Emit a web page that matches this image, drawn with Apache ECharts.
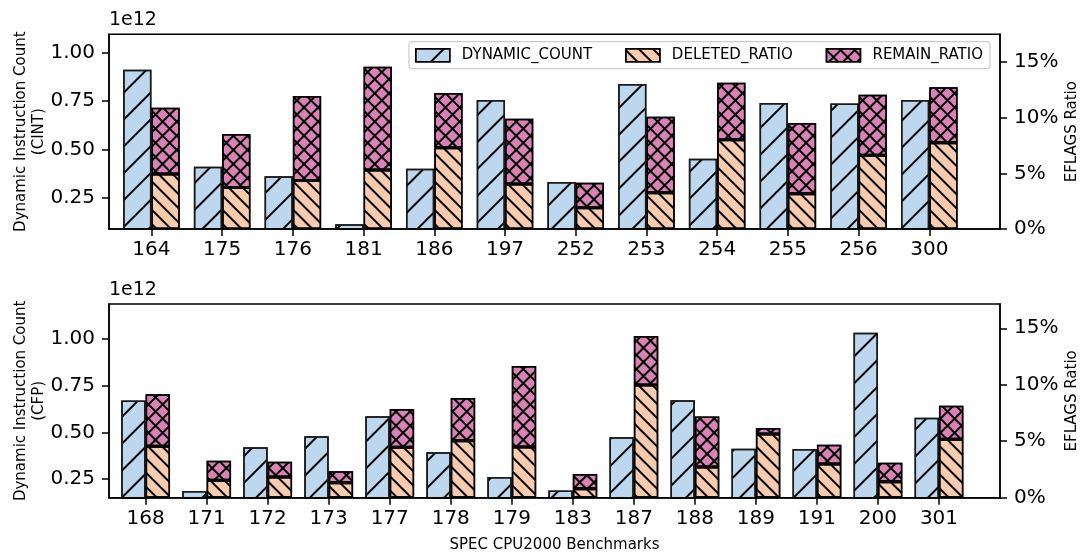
<!DOCTYPE html>
<html>
<head>
<meta charset="utf-8">
<script src="https://cdn.jsdelivr.net/npm/echarts@6/dist/echarts.min.js"></script>
<style>
html,body{margin:0;padding:0;background:#fff;}
#chart{width:1080px;height:552px;}
</style>
</head>
<body>
<div id="chart"></div>
<script>
// ---- data (dynamic counts in units of 1e12, ratios in %) ----
const cintCats = ['164','175','176','181','186','197','252','253','254','255','256','300'];
const cintDynamic = [0.913,0.411,0.361,0.112,0.400,0.756,0.331,0.839,0.452,0.741,0.738,0.756];
const cintDeleted = [4.94,3.74,4.37,5.30,7.31,4.04,1.92,3.26,8.02,3.17,6.62,7.75];
const cintRemain  = [5.96,4.79,7.58,9.28,4.91,5.87,2.24,6.83,5.12,6.35,5.44,5.00];

const cfpCats = ['168','171','172','173','177','178','179','183','187','188','189','191','200','301'];
const cfpDynamic = [0.671,0.185,0.420,0.480,0.587,0.394,0.261,0.188,0.474,0.673,0.413,0.411,1.035,0.579];
const cfpDeleted = [4.55,1.54,1.83,1.33,4.46,5.04,4.49,0.80,9.97,2.72,5.64,2.98,1.42,5.17];
const cfpRemain  = [4.60,1.73,1.36,1.01,3.39,3.78,7.16,1.30,4.34,4.48,0.53,1.71,1.68,2.97];

const countTicks = [0.25, 0.50, 0.75, 1.00];
const ratioTicks = [0, 5, 10, 15];
const seriesNames = ['DYNAMIC_COUNT', 'DELETED_RATIO', 'REMAIN_RATIO'];

// ---- styles / layout ----
const FONT = 'DejaVu Sans';
const BLUE = '#BDD7EE', PEACH = '#F8CBAD', PINK = '#D882B5';
const decalSlash = {symbol:'rect', symbolSize:1, color:'#000', dashArrayX:[1,0], dashArrayY:[2,17], rotation:-Math.PI/4};
const decalBack  = {symbol:'rect', symbolSize:1, color:'#000', dashArrayX:[1,0], dashArrayY:[2,8], rotation:Math.PI/4};
const decalCross = {symbol:'rect', symbolSize:1, color:'#000', dashArrayX:[[1,0],[2,8]], dashArrayY:[2,0,8,0], rotation:Math.PI/4};

const FRAME_LEFT = 109, FRAME_W = 891;
const panels = [
  {cats:cintCats, dyn:cintDynamic, del:cintDeleted, rem:cintRemain, label:'(CINT)', top:34.3, height:194.7, lmin:0.0877, lmax:1.097, rmax:17.5},
  {cats:cfpCats, dyn:cfpDynamic, del:cfpDeleted, rem:cfpRemain, label:'(CFP)', top:304, height:193.7, lmin:0.1497, lmax:1.189, rmax:17.15}
];

const grid = [], xAxis = [], yAxis = [], series = [];
const lineStyle = {color:'#000', width:1.5};
const labelFont = {fontSize:20, color:'#000', fontFamily:FONT};
panels.forEach((p, g) => {
  const n = p.cats.length;
  const unit = FRAME_W / (n + 0.6);          // matplotlib xlim = [-0.6, n]
  const gA = 2 * g, gB = 2 * g + 1;
  // grid A: bars on a category axis
  grid.push({left:FRAME_LEFT + 0.1 * unit, width:n * unit, top:p.top, height:p.height, outerBoundsMode:'none', containLabel:false});
  // grid B: visible frame and y axes
  grid.push({left:FRAME_LEFT, width:FRAME_W, top:p.top, height:p.height, outerBoundsMode:'none', containLabel:false,
             show:true, borderColor:'#000', borderWidth:1.5, backgroundColor:'transparent'});

  xAxis.push({
    type:'category', gridIndex:gA, data:p.cats, boundaryGap:true, z:5,
    axisLine:{show:false},
    axisTick:{show:true, alignWithLabel:true, interval:0, length:7, lineStyle},
    axisLabel:Object.assign({interval:0, margin:11}, labelFont),
    splitLine:{show:false}
  });
  xAxis.push({
    type:'value', gridIndex:gB, min:0, max:1, z:5,
    axisLine:{show:true, onZero:false, lineStyle},
    axisTick:{show:false}, axisLabel:{show:false}, splitLine:{show:false},
    name: g === 1 ? 'SPEC CPU2000 Benchmarks' : '',
    nameLocation:'middle', nameGap:40, nameMoveOverlap:false,
    nameTextStyle:{fontSize:15, color:'#000', fontFamily:FONT}
  });

  // hidden value axes for the bars (grid A)
  yAxis.push({type:'value', gridIndex:gA, min:p.lmin, max:p.lmax, show:false, splitLine:{show:false}});
  yAxis.push({type:'value', gridIndex:gA, min:0, max:p.rmax, show:false, splitLine:{show:false}});
  // visible axes (grid B), same ranges
  yAxis.push({
    type:'value', gridIndex:gB, position:'left', min:p.lmin, max:p.lmax, z:5,
    axisLine:{show:true, onZero:false, lineStyle}, splitLine:{show:false},
    axisTick:{show:true, customValues:countTicks, length:7, lineStyle},
    axisLabel:Object.assign({customValues:countTicks, formatter:v => v.toFixed(2), margin:14}, labelFont),
    name:'Dynamic Instruction Count\n' + p.label, nameLocation:'middle', nameGap:61, nameRotate:90, nameMoveOverlap:false,
    nameTextStyle:{fontSize:15, lineHeight:18, color:'#000', fontFamily:FONT}
  });
  yAxis.push({
    type:'value', gridIndex:gB, position:'right', min:0, max:p.rmax, z:5,
    axisLine:{show:true, onZero:false, lineStyle}, splitLine:{show:false},
    axisTick:{show:true, customValues:ratioTicks, length:7, lineStyle},
    axisLabel:Object.assign({customValues:ratioTicks, formatter:v => v + '%', margin:14}, labelFont),
    name:'EFLAGS Ratio', nameLocation:'middle', nameGap:65, nameRotate:90, nameMoveOverlap:false,
    nameTextStyle:{fontSize:15, color:'#000', fontFamily:FONT}
  });

  const yL = 4 * g, yR = 4 * g + 1;
  const common = {type:'bar', xAxisIndex:gA, barWidth:'40%', barGap:'0%'};
  series.push(Object.assign({}, common, {
    name:seriesNames[0], yAxisIndex:yL, data:p.dyn,
    itemStyle:{color:BLUE, borderColor:'#1a1a1a', borderWidth:1.5, decal:decalSlash}
  }));
  series.push(Object.assign({}, common, {
    name:seriesNames[1], yAxisIndex:yR, stack:'ratio' + g, data:p.del,
    itemStyle:{color:PEACH, borderColor:'#000', borderWidth:1.5, decal:decalBack}
  }));
  series.push(Object.assign({}, common, {
    name:seriesNames[2], yAxisIndex:yR, stack:'ratio' + g, data:p.rem,
    itemStyle:{color:PINK, borderColor:'#000', borderWidth:1.5, decal:decalCross}
  }));
});

const chart = echarts.init(document.getElementById('chart'), null, {renderer:'canvas'});
chart.setOption({
  animation:false,
  backgroundColor:'#fff',
  textStyle:{fontFamily:FONT},
  grid, xAxis, yAxis, series,
  legend:{
    data:seriesNames, left:409, top:41.7, icon:'rect', itemWidth:34, itemHeight:13, itemGap:33,
    padding:[6,7,6,6], backgroundColor:'rgba(255,255,255,0.8)', borderColor:'#cccccc', borderWidth:1.2, borderRadius:3,
    textStyle:{fontSize:15, color:'#000', fontFamily:FONT, padding:[0,0,0,7]},
    itemStyle:{borderColor:'#000', borderWidth:1.5}
  },
  graphic:[
    {type:'text', left:109, top:11, style:{text:'1e12', fontSize:19, fontFamily:FONT, fill:'#000'}},
    {type:'text', left:109, top:281, style:{text:'1e12', fontSize:19, fontFamily:FONT, fill:'#000'}}
  ]
});
</script>
</body>
</html>
